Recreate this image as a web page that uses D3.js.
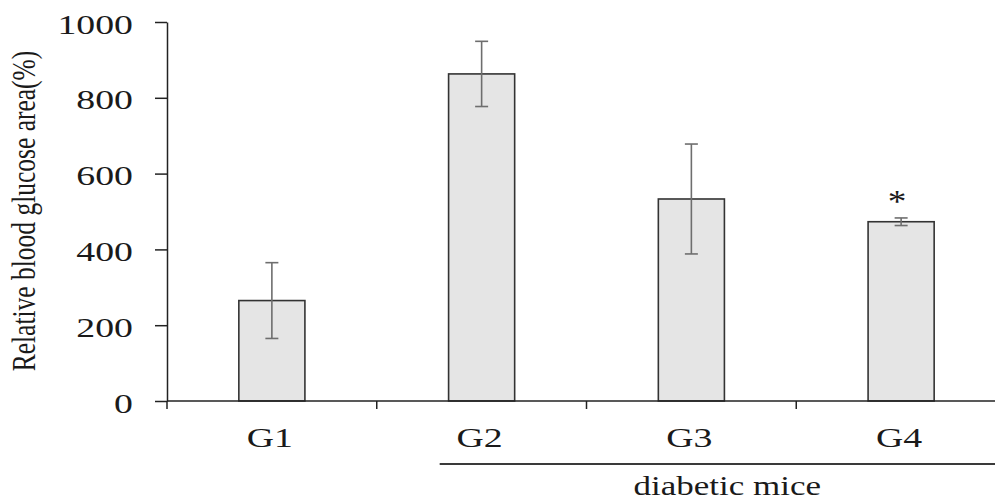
<!DOCTYPE html>
<html>
<head>
<meta charset="utf-8">
<script src="https://cdn.jsdelivr.net/npm/d3@7"></script>
<style>
  body { margin: 0; background: #fff; }
  text { font-family: "Liberation Serif", "Times New Roman", serif; fill: #1a1a1a; }
</style>
</head>
<body>
<svg id="chart"></svg>
<script>
// data
const groups = ["G1", "G2", "G3", "G4"];
const means = [265, 863, 533, 473];
const errors = [100, 86, 145, 10];
const yTicks = [0, 200, 400, 600, 800, 1000];
const starred = ["G4"];
const bracketGroups = ["G2", "G3", "G4"];
const bracketLabel = "diabetic mice";
const yLabel = "Relative blood glucose area(%)";

const width = 995, height = 501;
const marginLeft = 167, marginTop = 22, axisY = 401;
const stretch = 1.35; // glyphs in the figure are wider than they are tall

const svg = d3.select("#chart")
  .attr("width", width)
  .attr("height", height)
  .attr("viewBox", [0, 0, width, height]);

const x = d3.scaleBand().domain(groups).range([marginLeft, 1006]).padding(0);
const y = d3.scaleLinear().domain([0, 1000]).range([axisY, marginTop]);
const bw = x.bandwidth();
const barW = bw * 0.315;

const rows = groups.map((g, i) => ({ g, m: means[i], e: errors[i] }));

// bars
svg.append("g")
  .selectAll("rect")
  .data(rows)
  .join("rect")
  .attr("x", d => x(d.g) + (bw - barW) / 2)
  .attr("y", d => y(d.m))
  .attr("width", barW)
  .attr("height", d => y(0) - y(d.m))
  .attr("fill", "#e5e5e5")
  .attr("stroke", "#333")
  .attr("stroke-width", 1.6);

// error bars
const err = svg.append("g")
  .attr("stroke", "#6e6e6e")
  .attr("stroke-width", 1.6)
  .selectAll("g")
  .data(rows)
  .join("g")
  .attr("transform", d => `translate(${x(d.g) + bw / 2},0)`);
err.append("line")
  .attr("y1", d => y(d.m + d.e))
  .attr("y2", d => y(d.m - d.e));
err.append("line")
  .attr("x1", -6.5).attr("x2", 6.5)
  .attr("y1", d => y(d.m + d.e)).attr("y2", d => y(d.m + d.e));
err.append("line")
  .attr("x1", -6.5).attr("x2", 6.5)
  .attr("y1", d => y(d.m - d.e)).attr("y2", d => y(d.m - d.e));

// significance marks
svg.append("g")
  .selectAll("text")
  .data(rows.filter(d => starred.includes(d.g)))
  .join("text")
  .attr("transform", d => `translate(${x(d.g) + bw / 2 - 4},${y(d.m + d.e) - 6}) scale(1.2,1)`)
  .attr("text-anchor", "middle")
  .attr("font-size", 31)
  .text("*");

// y axis
const yAxis = svg.append("g")
  .attr("transform", `translate(${marginLeft},0)`)
  .call(d3.axisLeft(y).tickValues(yTicks).tickSize(12).tickSizeOuter(0).tickFormat(d3.format("d")));
yAxis.select(".domain").attr("stroke", "#222").attr("stroke-width", 1.5);
yAxis.selectAll(".tick line").attr("stroke", "#222").attr("stroke-width", 1.5);
yAxis.selectAll(".tick text")
  .attr("x", null).attr("dy", null)
  .attr("transform", `translate(-34,11) scale(${stretch},1)`)
  .attr("font-size", 28)
  .attr("font-family", null)
  .attr("fill", "#1a1a1a")
  .attr("text-anchor", "end");

// x axis: baseline plus ticks at the band boundaries
const xAxis = svg.append("g").attr("stroke", "#222").attr("stroke-width", 1.5);
xAxis.append("line")
  .attr("x1", marginLeft).attr("x2", width)
  .attr("y1", axisY).attr("y2", axisY);
xAxis.selectAll(".xt")
  .data(groups)
  .join("line")
  .attr("class", "xt")
  .attr("x1", d => x(d)).attr("x2", d => x(d))
  .attr("y1", axisY).attr("y2", axisY + 8);

svg.append("g")
  .selectAll("text")
  .data(groups)
  .join("text")
  .attr("transform", d => `translate(${x(d) + bw / 2 - 2},447) scale(${stretch},1)`)
  .attr("text-anchor", "middle")
  .attr("font-size", 28)
  .text(d => d);

// y axis title
svg.append("text")
  .attr("transform", `translate(35,${(50 + 372) / 2}) rotate(-90) scale(1,1.3)`)
  .attr("text-anchor", "middle")
  .attr("font-size", 25.5)
  .text(yLabel);

// bracket under the diabetic groups
const bx1 = x(bracketGroups[0]) + bw * 0.3;
const bx2 = width;
svg.append("line")
  .attr("x1", bx1).attr("x2", bx2)
  .attr("y1", 464).attr("y2", 464)
  .attr("stroke", "#3a3a3a")
  .attr("stroke-width", 1.8);
svg.append("text")
  .attr("transform", `translate(${(bx1 + bx2) / 2 + 10},495) scale(1.25,1)`)
  .attr("text-anchor", "middle")
  .attr("font-size", 28)
  .text(bracketLabel);
</script>
</body>
</html>
